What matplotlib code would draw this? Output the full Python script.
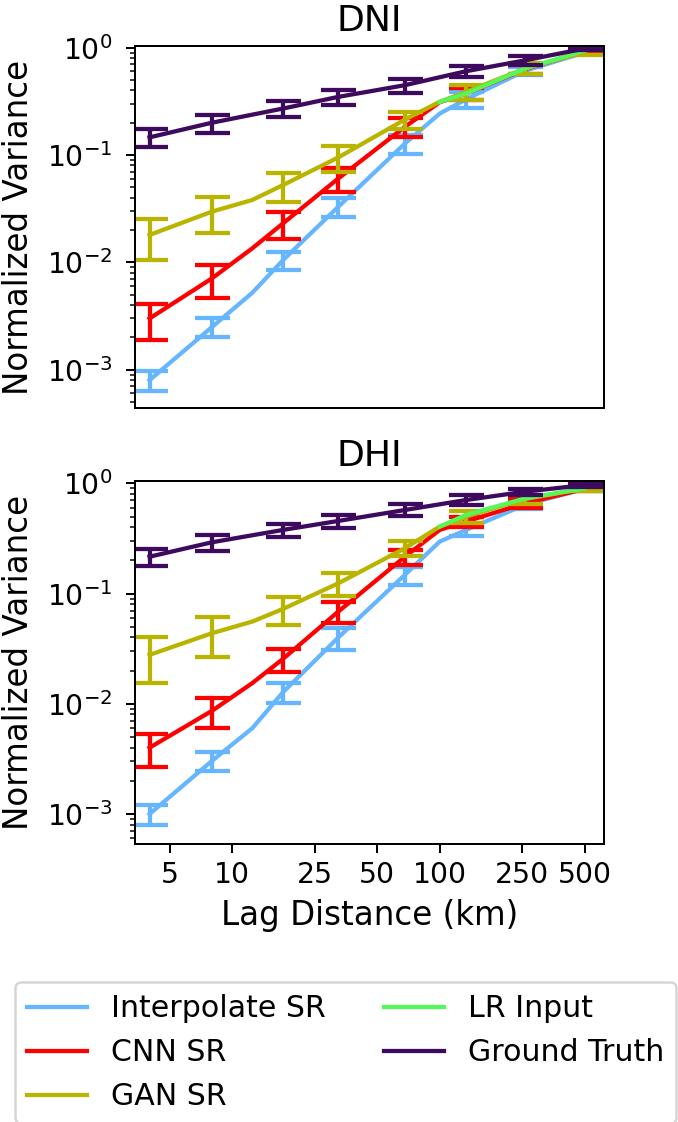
import matplotlib
matplotlib.use('Agg')
import matplotlib.pyplot as plt
from matplotlib.ticker import FixedLocator, NullLocator, FixedFormatter

# lag distances (km)
lag_line = [4, 8, 12.5, 17.6, 32.5, 68, 100, 134, 258, 500]
lag_bar = [4, 8, 17.6, 32.5, 68, 134, 258, 500]
lag_lr = [100, 134, 258, 500]

# DNI
dni_interp = [0.0008, 0.0025, 0.0052, 0.0105, 0.033, 0.128, 0.243, 0.33, 0.61, 0.90]
dni_cnn = [0.0030, 0.0071, 0.0135, 0.0231, 0.0605, 0.183, 0.31, 0.373, 0.63, 0.93]
dni_gan = [0.0180, 0.0297, 0.0381, 0.0525, 0.095, 0.214, 0.313, 0.387, 0.64, 0.91]
dni_lr = [0.312, 0.373, 0.638, 0.94]
dni_gt = [0.146, 0.20, 0.271, 0.348, 0.447, 0.603, 0.762, 0.98]
dni_interp_err = [0.00017, 0.0005, 0.0021, 0.0064, 0.025, 0.058, 0.05, 0.03]
dni_cnn_err = [0.0011, 0.0024, 0.0065, 0.015, 0.037, 0.05, 0.06, 0.03]
dni_gan_err = [0.0075, 0.011, 0.016, 0.025, 0.038, 0.06, 0.075, 0.05]
dni_gt_err = [0.028, 0.038, 0.045, 0.055, 0.068, 0.07, 0.07, 0.03]

# DHI
dhi_interp = [0.0010, 0.00304, 0.0060, 0.01276, 0.040, 0.148, 0.296, 0.378, 0.64, 0.89]
dhi_cnn = [0.0040, 0.00864, 0.0154, 0.0256, 0.0687, 0.216, 0.378, 0.45, 0.66, 0.89]
dhi_gan = [0.0278, 0.0437, 0.0557, 0.0726, 0.124, 0.258, 0.405, 0.499, 0.72, 0.90]
dhi_lr = [0.405, 0.517, 0.73, 0.90]
dhi_gt = [0.216, 0.292, 0.378, 0.456, 0.573, 0.706, 0.84, 0.966]
dhi_interp_err = [0.0002, 0.0006, 0.0026, 0.009, 0.028, 0.045, 0.05, 0.03]
dhi_cnn_err = [0.00135, 0.0026, 0.006, 0.0145, 0.035, 0.05, 0.06, 0.03]
dhi_gan_err = [0.0125, 0.017, 0.021, 0.029, 0.04, 0.06, 0.07, 0.04]
dhi_gt_err = [0.039, 0.048, 0.05, 0.064, 0.07, 0.07, 0.05, 0.03]

xticks = [5, 10, 25, 50, 100, 250, 500]

c_interp = '#66b5ff'
c_cnn = '#ff0000'
c_gan = '#b8b400'
c_lr = '#55f75a'
c_gt = '#3d0a5e'

plt.rcParams['font.size'] = 12

fig = plt.figure(figsize=(678 / 180, 1122 / 180), dpi=180)
ax1 = fig.add_axes([0.199, 0.6364, 0.692, 0.3226])
ax2 = fig.add_axes([0.199, 0.2478, 0.692, 0.3235], sharex=ax1)


def on_bars(vals):
    return [v for x, v in zip(lag_line, vals) if x in lag_bar]


def panel(ax, interp, cnn, gan, lr, gt, e_interp, e_cnn, e_gan, e_gt, title):
    lw = 1.7
    ax.plot(lag_line, interp, color=c_interp, lw=lw, label='Interpolate SR')
    ax.errorbar(lag_bar, on_bars(interp), yerr=e_interp, fmt='none', ecolor=c_interp, elinewidth=lw, capsize=7, capthick=lw)
    ax.plot(lag_line, cnn, color=c_cnn, lw=lw, label='CNN SR')
    ax.errorbar(lag_bar, on_bars(cnn), yerr=e_cnn, fmt='none', ecolor=c_cnn, elinewidth=lw, capsize=7, capthick=lw)
    ax.plot(lag_line, gan, color=c_gan, lw=lw, label='GAN SR')
    ax.errorbar(lag_bar, on_bars(gan), yerr=e_gan, fmt='none', ecolor=c_gan, elinewidth=lw, capsize=7, capthick=lw)
    ax.plot(lag_lr, lr, color=c_lr, lw=lw, label='LR Input')
    ax.plot(lag_bar, gt, color=c_gt, lw=lw, label='Ground Truth')
    ax.errorbar(lag_bar, gt, yerr=e_gt, fmt='none', ecolor=c_gt, elinewidth=lw, capsize=7, capthick=lw)
    ax.set_xscale('log')
    ax.set_yscale('log')
    ax.set_title(title, fontsize=14.5)
    ax.set_ylabel('Normalized Variance', fontsize=13)
    ax.yaxis.set_label_coords(-0.213, 0.5)
    ax.tick_params(labelsize=11.3)
    ax.tick_params(axis='y', which='major', pad=5.5)


panel(ax1, dni_interp, dni_cnn, dni_gan, dni_lr, dni_gt,
      dni_interp_err, dni_cnn_err, dni_gan_err, dni_gt_err, 'DNI')
panel(ax2, dhi_interp, dhi_cnn, dhi_gan, dhi_lr, dhi_gt,
      dhi_interp_err, dhi_cnn_err, dhi_gan_err, dhi_gt_err, 'DHI')

ax1.set_ylim(4.4e-4, 1.036)
ax2.set_ylim(5.35e-4, 1.05)
ax2.set_xlim(3.4, 620)
ax2.xaxis.set_major_locator(FixedLocator(xticks))
ax2.xaxis.set_major_formatter(FixedFormatter([str(t) for t in xticks]))
ax2.xaxis.set_minor_locator(NullLocator())
ax1.tick_params(axis='x', which='both', bottom=False, labelbottom=False)
ax2.set_xlabel('Lag Distance (km)', fontsize=13)

handles, labels = ax1.get_legend_handles_labels()
fig.legend(handles, labels, ncol=2, loc='upper left',
           bbox_to_anchor=(15 / 678, 1 - 1119 / 1122, 661 / 678, 137 / 1122),
           mode='expand', handlelength=2.0, borderaxespad=0)

fig.savefig('out.png', dpi=180)
